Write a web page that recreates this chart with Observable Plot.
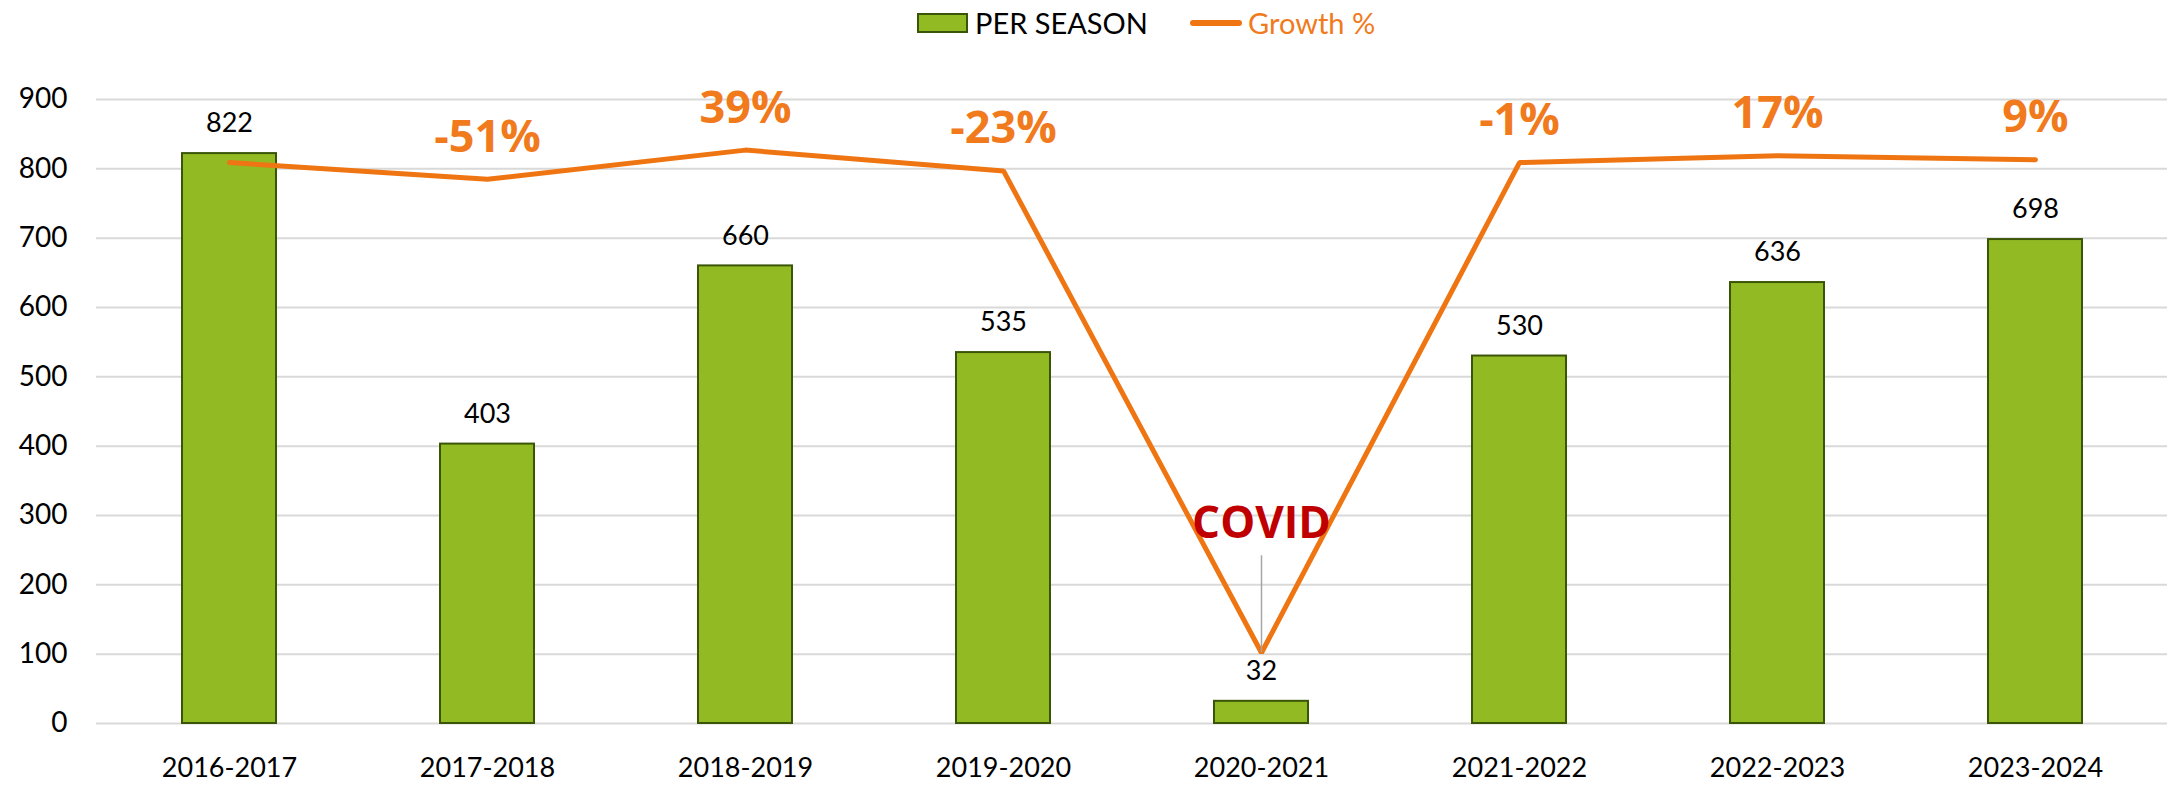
<!DOCTYPE html>
<html>
<head>
<meta charset="utf-8">
<script src="https://cdn.jsdelivr.net/npm/d3@7"></script>
<script src="https://cdn.jsdelivr.net/npm/@observablehq/plot@0.6"></script>
<style>
  html, body { margin: 0; padding: 0; background: #ffffff; overflow: hidden; }
  #legend { position: relative; width: 2167px; height: 45px; font-family: Lato, sans-serif; font-size: 29px; }
  #legend .sw { position: absolute; box-sizing: border-box; }
  #legend .lab { position: absolute; top: 0; line-height: 45px; white-space: nowrap; }
  svg text.pct { text-shadow: 1px 2px 2px rgba(0,0,0,0.22); }
</style>
</head>
<body>
<div id="legend"></div>
<div id="chart"></div>
<script>
// ---- data ----
const seasons = ["2016-2017","2017-2018","2018-2019","2019-2020","2020-2021","2021-2022","2022-2023","2023-2024"];
const perSeason = [822, 403, 660, 535, 32, 530, 636, 698];
// growth line (secondary, hidden axis) read as positions on the bar axis
const growthLinePos = [809, 785, 827, 797, 102, 809, 819, 813];
const growthLabels = [null, "-51%", "39%", "-23%", null, "-1%", "17%", "9%"];
const covidSeason = "2020-2021";
const covidLabel = "COVID";
const yTicks = [0, 100, 200, 300, 400, 500, 600, 700, 800, 900];
const legendNames = ["PER SEASON", "Growth %"];

// ---- styles ----
const barFill = "#92BA23";
const barStroke = "#3B5508";
const orange = "#EF7512";
const orangeText = "#F07A1C";
const covidRed = "#C00000";

const rows = seasons.map((s, i) => ({season: s, value: perSeason[i], pos: growthLinePos[i], growth: growthLabels[i]}));
const covidRow = rows.filter(d => d.season === covidSeason);

// ---- legend ----
const legend = document.getElementById("legend");
legend.innerHTML = `
  <div class="sw" style="left:917px;top:13px;width:51px;height:20px;background:${barFill};border:2px solid ${barStroke};"></div>
  <div class="lab" style="left:975px;color:#000;">${legendNames[0]}</div>
  <div class="sw" style="left:1190px;top:20px;width:52px;height:6px;background:${orange};border-radius:3px;"></div>
  <div class="lab" style="left:1248px;color:${orangeText};">${legendNames[1]}</div>
`;

// ---- chart ----
const chart = Plot.plot({
  width: 2167,
  height: 740,
  marginLeft: 96,
  marginRight: 0,
  marginTop: 54,
  marginBottom: 62,
  style: {fontFamily: "Lato, sans-serif", fontSize: "27px", color: "#000", background: "#fff"},
  x: {domain: seasons, paddingInner: 0.636, paddingOuter: 0.318, label: null},
  y: {domain: [0, 900], label: null},
  marks: [
    Plot.gridY(yTicks, {stroke: "#D9D9D9", strokeOpacity: 1, strokeWidth: 2}),
    Plot.axisY({ticks: yTicks, tickSize: 0, tickPadding: 29, fontSize: 28, label: null, tickFormat: d => String(d)}),
    Plot.axisX({tickSize: 0, tickPadding: 34, fontSize: 27, label: null}),
    Plot.barY(rows, {x: "season", y: "value", fill: barFill, stroke: barStroke, strokeWidth: 2}),
    Plot.text(rows, {x: "season", y: "value", text: d => String(d.value), dy: -30, fontSize: 27, fill: "#000"}),
    Plot.line(rows, {x: "season", y: "pos", stroke: orange, strokeWidth: 5, strokeLinejoin: "miter", strokeLinecap: "round"}),
    Plot.text(rows.filter(d => d.growth), {x: "season", y: "pos", text: "growth", dy: -42, fontSize: 45, fontWeight: "bold", fontFamily: "Open Sans", fill: orangeText, className: "pct"}),
    Plot.text(covidRow, {x: "season", y: "pos", text: () => covidLabel, dy: -129, fontSize: 44, fontWeight: "bold", fontFamily: "Open Sans", fill: covidRed}),
    Plot.ruleX(covidRow, {x: "season", y1: "pos", y2: "pos", insetTop: -97, stroke: "#A6A6A6", strokeWidth: 1.5})
  ]
});
document.getElementById("chart").appendChild(chart);
</script>
</body>
</html>
